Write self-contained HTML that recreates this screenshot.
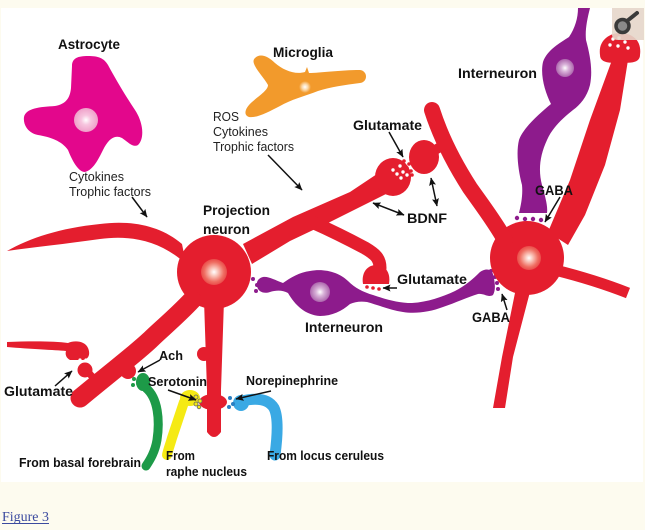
<!DOCTYPE html>
<html><head><meta charset="utf-8"><style>
html,body{margin:0;padding:0;background:#fdfbef;}
svg{display:block;}
text{font-family:"Liberation Sans",Arial,sans-serif;}
.b{font-weight:bold;font-size:14px;fill:#111;}
.s{font-weight:bold;font-size:13px;fill:#111;}
.r{font-size:12.5px;fill:#222;}
.ar{stroke:#111;stroke-width:1.5;fill:none;}
</style></head><body>
<svg width="645" height="530" viewBox="0 0 645 530" xmlns="http://www.w3.org/2000/svg">
<defs>
<radialGradient id="gr" cx="50%" cy="50%" r="50%"><stop offset="0" stop-color="#ffffff"/><stop offset="0.3" stop-color="#fac8bd"/><stop offset="0.75" stop-color="#ef6e62"/><stop offset="1" stop-color="#ea4c4a"/></radialGradient>
<radialGradient id="gp" cx="50%" cy="50%" r="50%"><stop offset="0" stop-color="#ffffff"/><stop offset="0.4" stop-color="#f7c6df"/><stop offset="1" stop-color="#efa0c9"/></radialGradient>
<radialGradient id="go" cx="50%" cy="50%" r="50%"><stop offset="0" stop-color="#ffffff"/><stop offset="0.5" stop-color="#fad7a8"/><stop offset="1" stop-color="#f29a2c"/></radialGradient>
<radialGradient id="gv" cx="50%" cy="50%" r="50%"><stop offset="0" stop-color="#ffffff"/><stop offset="0.4" stop-color="#d9b3d9"/><stop offset="1" stop-color="#ad66ad"/></radialGradient>
<marker id="ah" markerUnits="userSpaceOnUse" markerWidth="9" markerHeight="8" refX="7.5" refY="4" orient="auto-start-reverse"><path d="M0,0.5 L8,4 L0,7.5 L1.5,4 Z" fill="#111"/></marker>
</defs>
<rect x="0" y="0" width="645" height="530" fill="#fdfbef"/>
<rect x="1" y="8" width="642" height="474" fill="#ffffff"/>

<!-- Astrocyte -->
<path d="M72,66 C72,58 78,56 88,56 C98,56 104,58 108,65 C115,78 125,95 135,110 C143,122 145,138 138,145 C133,148 128,142 122,138 C114,134 108,140 103,150 C98,160 93,170 85,172 C78,172 72,160 68,150 C62,141 50,137 38,135 C28,133 23,125 24,117 C26,108 40,107 55,106 C66,104 70,98 71,88 Z" fill="#e3078c"/>
<circle cx="86" cy="120" r="12" fill="url(#gp)"/>

<!-- Microglia -->
<path d="M255,58 C260,53 268,56 275,63 C283,70 295,75 305,72 L307,67 L309,73 C320,73 340,70 360,70 C368,71 368,82 360,83 C345,85 330,87 318,91 C305,96 290,100 280,106 C268,112 258,118 249,117 C243,115 245,108 252,102 C260,95 268,90 268,85 C264,78 258,72 255,66 C253,62 253,60 255,58 Z" fill="#f29a2c"/>
<circle cx="305" cy="87" r="6" fill="url(#go)"/>

<!-- Upper interneuron (purple) -->
<path d="M578,8 L590,8 C587,20 585,30 586,40 C590,55 593,70 590,85 C587,97 580,105 573,110 C563,118 552,128 547,140 C540,155 538,170 542,185 C545,196 548,206 547,213 L519,213 C521,205 523,195 522,185 C518,170 516,152 519,140 C523,128 540,113 551,104 C545,92 540,75 543,62 C547,50 560,43 569,37 C575,28 578,18 578,8 Z" fill="#8d1b8c"/>
<circle cx="565" cy="68" r="9" fill="url(#gv)"/>
<g fill="#8d1b8c"><circle cx="517" cy="218" r="2.2"/><circle cx="525" cy="219" r="2.2"/><circle cx="533" cy="219" r="2.2"/><circle cx="541" cy="220" r="2.2"/></g>

<!-- Middle interneuron -->
<path d="M263,277 C268,276 275,280 283,283 C290,278 300,272 310,271 C325,268 340,273 348,281 C355,288 363,292 373,295 C385,299 398,303 412,303 C428,302 442,297 455,291 C465,286 473,279 480,272 C486,268 491,269 493,274 C495,282 496,290 493,295 C488,298 484,293 478,294 C468,297 455,303 443,307 C430,312 415,314 403,312 C390,310 378,305 367,302 C360,301 355,302 350,304 C342,311 332,316 320,316 C305,315 295,305 288,293 C283,290 276,290 270,292 C264,294 258,292 257,286 C256,281 259,278 263,277 Z" fill="#8d1b8c"/>
<circle cx="320" cy="292" r="10" fill="url(#gv)"/>
<g fill="#8d1b8c"><circle cx="253" cy="279" r="2"/><circle cx="257" cy="285" r="2"/><circle cx="256" cy="291" r="2"/>
<circle cx="491" cy="271" r="2"/><circle cx="495" cy="277" r="2"/><circle cx="497" cy="283" r="2"/><circle cx="498" cy="289" r="2"/></g>

<!-- RED: projection neuron -->
<g fill="#e41e2e">
<path d="M182,244 C160,225 130,220 100,224 C60,228 30,238 7,251 C35,247 65,244 100,239 C130,235 160,240 186,264 Z"/>
<path d="M243,244 L293,217 L350,192 L380,172 L390,192 L330,222 L290,241 L252,264 Z"/>
<circle cx="214" cy="272" r="37"/>
<path d="M204,300 L224,300 L221,390 L221,432 Q214,442 207,432 L207,390 Z"/>
<circle cx="204" cy="354" r="7"/>
<ellipse cx="213" cy="402" rx="14" ry="8"/>
<ellipse cx="393" cy="177" rx="18" ry="19"/>
<ellipse cx="424" cy="157" rx="15" ry="17"/>
<path d="M363,284 C361,272 368,265 376,265 C385,265 391,272 389,284 Z"/>
<circle cx="128" cy="371" r="8"/>
<path d="M7,342 C30,341 55,341 68,343 C75,340 85,341 88,348 C91,355 88,360 82,360 L70,360 C66,358 65,354 66,351 C55,350 30,349 7,347 Z"/>
<circle cx="85" cy="370" r="7.5"/>
<!-- right neuron -->
<circle cx="527" cy="258" r="37"/>
<path d="M612,60 L628,60 L620,110 L605,165 L585,215 L568,245 L548,232 L570,180 L590,120 Z"/>
<path d="M600,55 C598,40 610,33 620,33 C632,33 642,40 640,55 C640,62 632,64 620,62 C608,64 600,62 600,55 Z"/>
<path d="M516,288 L531,288 L513,357 L505,408 L493,408 L502,357 Z"/>
</g>
<g fill="none" stroke="#e41e2e" stroke-linecap="round">
<path d="M312,222 C330,230 350,240 365,248 C375,254 380,258 380,268" stroke-width="13"/>
<path d="M192,300 C175,318 160,330 150,340 C135,354 120,365 80,398" stroke-width="19"/>
<path d="M88,372 L97,382" stroke-width="7"/>
<path d="M432,110 C440,135 452,160 470,188 C482,205 495,222 505,240" stroke-width="16"/>
<path d="M430,153 L447,143" stroke-width="10"/>
<path d="M555,270 Q595,280 628,293" stroke-width="11" stroke-linecap="butt"/>
</g>
<circle cx="214" cy="272" r="13" fill="url(#gr)"/>
<circle cx="529" cy="258" r="12" fill="url(#gr)"/>
<!-- white vesicles -->
<g fill="#ffffff">
<circle cx="393" cy="170" r="1.7"/><circle cx="400" cy="166" r="1.7"/><circle cx="397" cy="174" r="1.7"/><circle cx="403" cy="172" r="1.7"/><circle cx="401" cy="178" r="1.7"/><circle cx="407" cy="175" r="1.7"/>
<circle cx="613" cy="39" r="1.7"/><circle cx="619" cy="38" r="1.7"/><circle cx="625" cy="42" r="1.7"/><circle cx="610" cy="45" r="1.7"/><circle cx="618" cy="46" r="1.7"/><circle cx="628" cy="48" r="1.7"/>
<circle cx="75" cy="362" r="1.6"/><circle cx="80" cy="360" r="1.6"/><circle cx="86" cy="360" r="1.6"/>
</g>
<g fill="#e41e2e"><circle cx="404" cy="161" r="1.8"/><circle cx="409" cy="164" r="1.8"/><circle cx="407" cy="168" r="1.8"/><circle cx="411" cy="171" r="1.8"/><circle cx="412" cy="175" r="1.8"/>
<circle cx="367" cy="287" r="1.8"/><circle cx="373" cy="288" r="1.8"/><circle cx="379" cy="289" r="1.8"/></g>

<!-- Green (Ach) -->
<g fill="none" stroke="#1d9a48" stroke-linecap="round"><path d="M146,388 C158,398 160,420 157,440 C155,452 150,460 146,466" stroke-width="9"/></g>
<ellipse cx="143" cy="382" rx="7" ry="9" fill="#1d9a48"/>
<g fill="#1d9a48"><circle cx="134" cy="379" r="2"/><circle cx="133" cy="385" r="2"/><circle cx="138" cy="384" r="1.8"/></g>

<!-- Yellow (serotonin) -->
<g fill="none" stroke="#f5ea14" stroke-linecap="round"><path d="M184,402 C180,414 176,426 172,438 C170,445 168,450 167,455" stroke-width="10"/></g>
<ellipse cx="190" cy="398" rx="10" ry="8" fill="#f5ea14"/>
<g fill="#f5ea14" stroke="#666" stroke-width="0.8"><circle cx="196" cy="397" r="2"/><circle cx="200" cy="401" r="2"/><circle cx="196" cy="404" r="2"/><circle cx="199" cy="407" r="1.8"/></g>

<!-- Blue (NE) -->
<g fill="none" stroke="#3aa9e4" stroke-linecap="round"><path d="M242,401 C255,398 268,398 274,408 C279,418 277,440 275,455" stroke-width="11"/></g>
<ellipse cx="241" cy="403" rx="8" ry="8" fill="#3aa9e4"/>
<g fill="#2a7fc2"><circle cx="230" cy="398" r="2"/><circle cx="233" cy="404" r="2"/><circle cx="229" cy="407" r="2"/></g>

<!-- Arrows -->
<g class="ar" marker-end="url(#ah)">
<line x1="132" y1="197" x2="147" y2="217"/>
<line x1="268" y1="155" x2="302" y2="190"/>
<line x1="389" y1="132" x2="403" y2="157"/>
<line x1="560" y1="197" x2="545" y2="222"/>
<line x1="397" y1="288" x2="383" y2="288"/>
<line x1="507" y1="310" x2="502" y2="294"/>
<line x1="55" y1="386" x2="72" y2="371"/>
<line x1="160" y1="360" x2="138" y2="372"/>
<line x1="168" y1="390" x2="196" y2="400"/>
<line x1="271" y1="391" x2="236" y2="399"/>
</g>
<g class="ar" marker-start="url(#ah)" marker-end="url(#ah)">
<line x1="373" y1="203" x2="404" y2="215"/>
<line x1="431" y1="178" x2="437" y2="206"/>
</g>

<!-- Labels -->
<text class="b" x="58" y="49" textLength="62" lengthAdjust="spacingAndGlyphs">Astrocyte</text>
<text class="b" x="273" y="57" textLength="60" lengthAdjust="spacingAndGlyphs">Microglia</text>
<text class="b" x="458" y="78" textLength="79" lengthAdjust="spacingAndGlyphs">Interneuron</text>
<text class="b" x="353" y="130" textLength="69" lengthAdjust="spacingAndGlyphs">Glutamate</text>
<text class="b" x="203" y="215" textLength="67" lengthAdjust="spacingAndGlyphs">Projection</text>
<text class="b" x="203" y="234" textLength="47" lengthAdjust="spacingAndGlyphs">neuron</text>
<text class="b" x="407" y="223" textLength="40" lengthAdjust="spacingAndGlyphs">BDNF</text>
<text class="b" x="535" y="195" textLength="38" lengthAdjust="spacingAndGlyphs">GABA</text>
<text class="b" x="397" y="284" textLength="70" lengthAdjust="spacingAndGlyphs">Glutamate</text>
<text class="b" x="472" y="322" textLength="38" lengthAdjust="spacingAndGlyphs">GABA</text>
<text class="b" x="305" y="332" textLength="78" lengthAdjust="spacingAndGlyphs">Interneuron</text>
<text class="b" x="4" y="396" textLength="69" lengthAdjust="spacingAndGlyphs">Glutamate</text>
<text class="s" x="159" y="360" textLength="24" lengthAdjust="spacingAndGlyphs">Ach</text>
<text class="s" x="148" y="386" textLength="59" lengthAdjust="spacingAndGlyphs">Serotonin</text>
<text class="s" x="246" y="385" textLength="92" lengthAdjust="spacingAndGlyphs">Norepinephrine</text>
<text class="s" x="19" y="467" textLength="122" lengthAdjust="spacingAndGlyphs">From basal forebrain</text>
<text class="s" x="166" y="460" textLength="29" lengthAdjust="spacingAndGlyphs">From</text>
<text class="s" x="166" y="476" textLength="81" lengthAdjust="spacingAndGlyphs">raphe nucleus</text>
<text class="s" x="267" y="460" textLength="117" lengthAdjust="spacingAndGlyphs">From locus ceruleus</text>

<text class="r" x="69" y="181" textLength="55" lengthAdjust="spacingAndGlyphs">Cytokines</text>
<text class="r" x="69" y="196" textLength="82" lengthAdjust="spacingAndGlyphs">Trophic factors</text>
<text class="r" x="213" y="121" textLength="26" lengthAdjust="spacingAndGlyphs">ROS</text>
<text class="r" x="213" y="136" textLength="55" lengthAdjust="spacingAndGlyphs">Cytokines</text>
<text class="r" x="213" y="151" textLength="81" lengthAdjust="spacingAndGlyphs">Trophic factors</text>

<!-- Magnifier icon -->
<path d="M612,8 L644,8 L644,40 L618,40 Q612,40 612,34 Z" fill="#e6d6ca" opacity="0.9"/>
<circle cx="622.5" cy="26" r="6.5" fill="#8a8a8a" stroke="#3a3a3a" stroke-width="3.5"/>
<line x1="627" y1="21" x2="637" y2="13" stroke="#3a3a3a" stroke-width="4" stroke-linecap="round"/>

<!-- Figure link -->
<text x="2" y="521" style="font-family:'Liberation Serif','Times New Roman',serif;font-size:14px;fill:#3b4a9f" textLength="47" lengthAdjust="spacingAndGlyphs">Figure 3</text>
<line x1="2" y1="523.5" x2="49" y2="523.5" stroke="#3b4a9f" stroke-width="1"/>
</svg>
</body></html>
